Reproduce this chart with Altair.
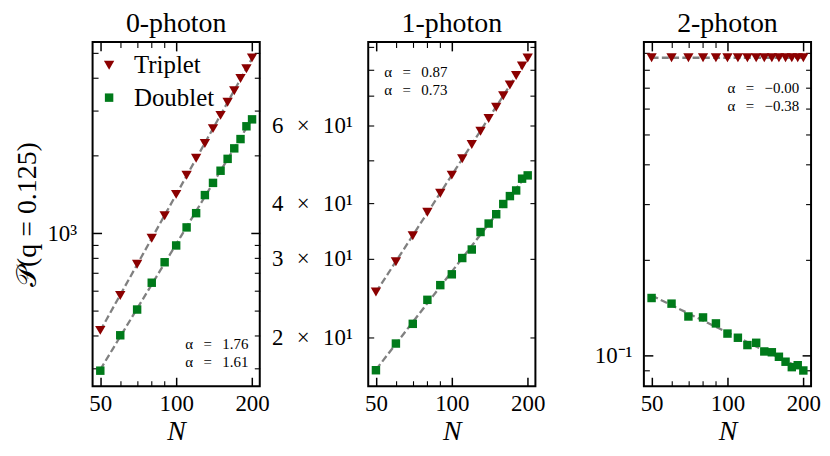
import altair as alt
import pandas as pd

# ---------------- data ----------------
N_vals = [50, 60, 70, 80, 90, 100, 110, 120, 130, 140, 150, 160, 170, 180, 190, 200]
panel_titles = ["0-photon", "1-photon", "2-photon"]
series_names = ["Triplet", "Doublet"]
series_colors = ["#8b0000", "#007a1a"]
series_shapes = ["triangle-down", "square"]
series_sizes = [108, 72]

p0_triplet = [420, 574, 759, 957, 1169, 1416, 1679, 1955, 2232, 2548, 2868, 3224, 3575, 3985, 4352, 4795]
p0_doublet = [293, 402, 506, 643, 772, 897, 1054, 1197, 1407, 1569, 1749, 1945, 2136, 2321, 2602, 2768]
p1_triplet = [25.27, 29.57, 33.83, 38.21, 42.17, 46.31, 50.44, 54.28, 58.13, 62.15, 65.83, 69.90, 73.87, 77.67, 81.52, 85.05]
p1_doublet = [16.84, 19.34, 21.42, 24.26, 26.18, 27.69, 30.13, 31.49, 34.48, 36.03, 37.81, 39.87, 41.54, 42.77, 45.47, 46.25]
p2_triplet = [0.870, 0.870, 0.870, 0.870, 0.870, 0.870, 0.870, 0.870, 0.870, 0.870, 0.870, 0.870, 0.870, 0.870, 0.870, 0.870]
p2_doublet = [0.1520, 0.1459, 0.1329, 0.1320, 0.1264, 0.1174, 0.1139, 0.1080, 0.1098, 0.1031, 0.1025, 0.0992, 0.0957, 0.0920, 0.0933, 0.0898]

panel_series = [
    [p0_triplet, p0_doublet],
    [p1_triplet, p1_doublet],
    [p2_triplet, p2_doublet],
]
alpha_labels = [["α = 1.76", "α = 1.61"], ["α = 0.87", "α = 0.73"], ["α = −0.00", "α = −0.38"]]

x_limits = [46.6, 214.6]
y_limits = [[255, 5530], [15.5, 92.4], [0.0801, 0.976]]
x_major = [50, 100, 200]
x_minor = [60, 70, 80, 90]
y_major = [[1000], [], [0.1]]
y_minor = [
    [300, 400, 500, 600, 700, 800, 900, 2000, 3000, 4000, 5000],
    [20, 30, 40, 50, 60, 70, 80, 90],
    [0.09, 0.2, 0.3, 0.4, 0.5, 0.6, 0.7, 0.8, 0.9],
]
y_label_values = [[1000], [20, 30, 40, 60], [0.1]]
y_label_texts = [["10³"], ["2 × 10¹", "3 × 10¹", "4 × 10¹", "6 × 10¹"], ["10⁻¹"]]
y_title = "𝒫(q = 0.125)"
x_title = "N"

# ---------------- layout / style ----------------
W, H = 168, 346
FONT = "Liberation Serif"
MAJ, MIN = 9, 5.5
WIDE = "\u2002\u2009"  # wider math-like spacing around "="


def label_expr(values, texts):
    expr = "''"
    for v, t in reversed(list(zip(values, texts))):
        t = t.replace(" × ", "\u2002\u200a×\u2002\u200a")
        expr = f"datum.value == {v} ? '{t}' : ({expr})"
    return expr


def make_panel(k):
    rows = []
    for s, vals in zip(series_names, panel_series[k]):
        for n, p in zip(N_vals, vals):
            rows.append({"series": s, "N": n, "P": p})
    df = pd.DataFrame(rows)

    xs = alt.Scale(type="log", domain=x_limits, nice=False)
    ys = alt.Scale(type="log", domain=y_limits[k], nice=False)
    base = alt.Chart(df)

    def carrier(xaxis, yaxis):
        return base.mark_point(opacity=0).encode(
            x=alt.X("N:Q", scale=xs, axis=xaxis),
            y=alt.Y("P:Q", scale=ys, axis=yaxis),
        )

    def tick_axis(orient, offset, values, size, width):
        if not values:
            return None
        return alt.Axis(orient=orient, offset=offset, values=values, tickSize=size,
                        tickWidth=width, labels=False, domain=False, title=None, grid=False)

    ylab_kwargs = dict(orient="left", values=y_label_values[k],
                       labelExpr=label_expr(y_label_values[k], y_label_texts[k]),
                       ticks=False, domain=False, labelPadding=16 if k < 2 else 12,
                       labelOverlap=False, labelFlush=False, grid=False,
                       labelFontSize=23)
    if k == 0:
        ylab_kwargs.update(title=y_title, titlePadding=5, titleFontSize=28)
    else:
        ylab_kwargs.update(title=None)

    layers = [
        carrier(
            alt.Axis(orient="bottom", values=x_major, ticks=False, domain=False,
                     labelPadding=6, labelFlush=False, labelOverlap=False, format="d",
                     labelFontSize=23, title=x_title, titleFontStyle="italic",
                     titleFontSize=28, titlePadding=3, grid=False),
            alt.Axis(**ylab_kwargs),
        ),
        carrier(tick_axis("top", -H, x_major, MAJ, 1.5), tick_axis("right", -W, y_major[k], MAJ, 1.5)),
        carrier(tick_axis("top", -H, x_minor, MIN, 1.1), tick_axis("right", -W, y_minor[k], MIN, 1.1)),
        carrier(tick_axis("bottom", -H, x_major, MAJ, 1.5), tick_axis("left", -W, y_major[k], MAJ, 1.5)),
        carrier(tick_axis("bottom", -H, x_minor, MIN, 1.1), tick_axis("left", -W, y_minor[k], MIN, 1.1)),
    ]

    fit = base.transform_regression(
        "N", "P", groupby=["series"], method="pow", extent=[50, 200]
    ).mark_line(color="#808080", strokeDash=[7, 3.3], strokeWidth=2.3).encode(
        x=alt.X("N:Q", scale=xs, axis=None),
        y=alt.Y("P:Q", scale=ys, axis=None),
        detail="series:N",
    )
    pts = base.mark_point(filled=True, opacity=1).encode(
        x=alt.X("N:Q", scale=xs, axis=None),
        y=alt.Y("P:Q", scale=ys, axis=None),
        shape=alt.Shape("series:N", scale=alt.Scale(domain=series_names, range=series_shapes), legend=None),
        color=alt.Color("series:N", scale=alt.Scale(domain=series_names, range=series_colors), legend=None),
        size=alt.Size("series:O", scale=alt.Scale(domain=series_names, range=series_sizes), legend=None),
    )
    layers += [fit, pts]

    # alpha annotations (axes-fraction style placement)
    if k == 0:
        ax, align, ay = 156.6, "right", [H - 37, H - 19]
    elif k == 1:
        ax, align, ay = 16, "left", [35, 53]
    else:
        ax, align, ay = 156, "right", [51.5, 69.5]
    for i, lab in enumerate(alpha_labels[k]):
        tdf = pd.DataFrame({"t": [lab.replace(" = ", WIDE + "=" + WIDE)]})
        layers.append(
            alt.Chart(tdf).mark_text(align=align, baseline="alphabetic", font=FONT,
                                     fontSize=15, color="black").encode(
                x=alt.value(ax), y=alt.value(ay[i]), text="t:N")
        )

    # legend (first panel only)
    if k == 0:
        leg_y = [23.4, 56]
        for i, s in enumerate(series_names):
            ldf = pd.DataFrame({"series": [s]})
            layers.append(
                alt.Chart(ldf).mark_point(filled=True, opacity=1, shape=series_shapes[i],
                                          size=series_sizes[i], color=series_colors[i]).encode(
                    x=alt.value(16.6), y=alt.value(leg_y[i]))
            )
            layers.append(
                alt.Chart(ldf).mark_text(align="left", baseline="alphabetic", font=FONT,
                                         fontSize=25, color="black").encode(
                    x=alt.value(41.6), y=alt.value(leg_y[i] + 8), text="series:N")
            )

    return alt.layer(*layers).resolve_axis(x="independent", y="independent").properties(
        width=W, height=H,
        title=alt.TitleParams(panel_titles[k], font=FONT, fontSize=28, fontWeight="normal",
                              color="black", offset=3, anchor="middle"),
    )


chart = alt.hconcat(*[make_panel(k) for k in range(3)], spacing=109, bounds="flush").properties(
    padding={"left": 5, "top": 0, "right": 0, "bottom": 0}
).configure_view(stroke="black", strokeWidth=2).configure_axis(
    labelFont=FONT, titleFont=FONT, labelColor="black", titleColor="black",
    tickColor="black", titleFontWeight="normal", grid=False,
)

chart.save("out.html", embed_options={"renderer": "svg", "actions": False})
